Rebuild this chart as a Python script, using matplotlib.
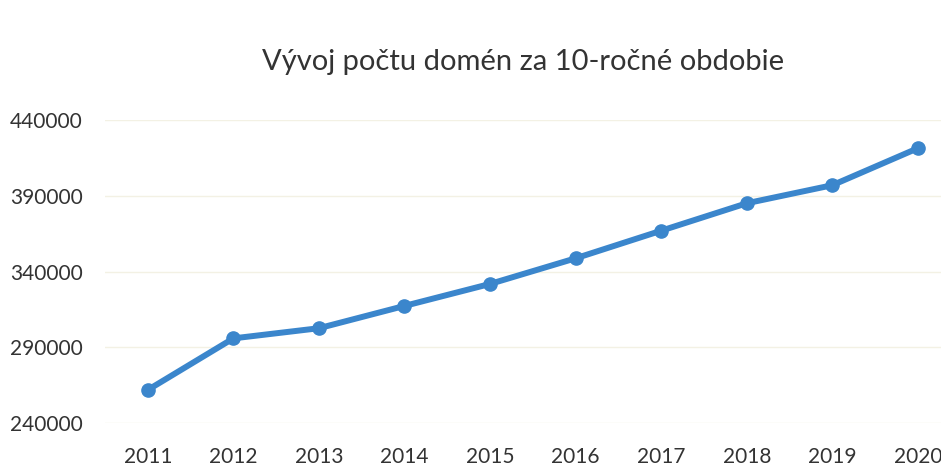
import matplotlib
matplotlib.use("Agg")
import matplotlib.pyplot as plt

years = ["2011", "2012", "2013", "2014", "2015", "2016", "2017", "2018", "2019", "2020"]
domains = [262000, 296000, 302700, 317400, 331900, 348800, 367000, 385100, 397000, 421400]
yticks = [240000, 290000, 340000, 390000, 440000]

plt.rcParams['font.family'] = ['Lato', 'DejaVu Sans']

fig = plt.figure(figsize=(9.41, 4.68), dpi=100)
ax = fig.add_axes([105 / 941, 44.7 / 468, 836 / 941, 303.3 / 468])

x = list(range(len(years)))
ax.plot(x, domains, '-o', color='#3b86cc', lw=4.3, ms=9.5, solid_capstyle='round')

ax.set_xlim(-0.5, 9.27)
ax.set_ylim(240000, 440000)
ax.set_xticks(x)
ax.set_xticklabels(years)
ax.set_yticks(yticks)
ax.set_yticklabels([str(v) for v in yticks])
ax.tick_params(length=0, labelsize=15, colors='#333333')
ax.tick_params(axis='y', pad=16)
ax.tick_params(axis='x', pad=17)
ax.grid(axis='y', color='#f3f1e4', lw=1)
ax.set_axisbelow(True)
for s in ax.spines.values():
    s.set_visible(False)

fig.text(523 / 941, 1 - 62 / 468, "Vývoj počtu domén za 10-ročné obdobie",
         ha='center', va='center', fontsize=21, color='#333333')

fig.savefig("out.png", dpi=100, facecolor='white')
